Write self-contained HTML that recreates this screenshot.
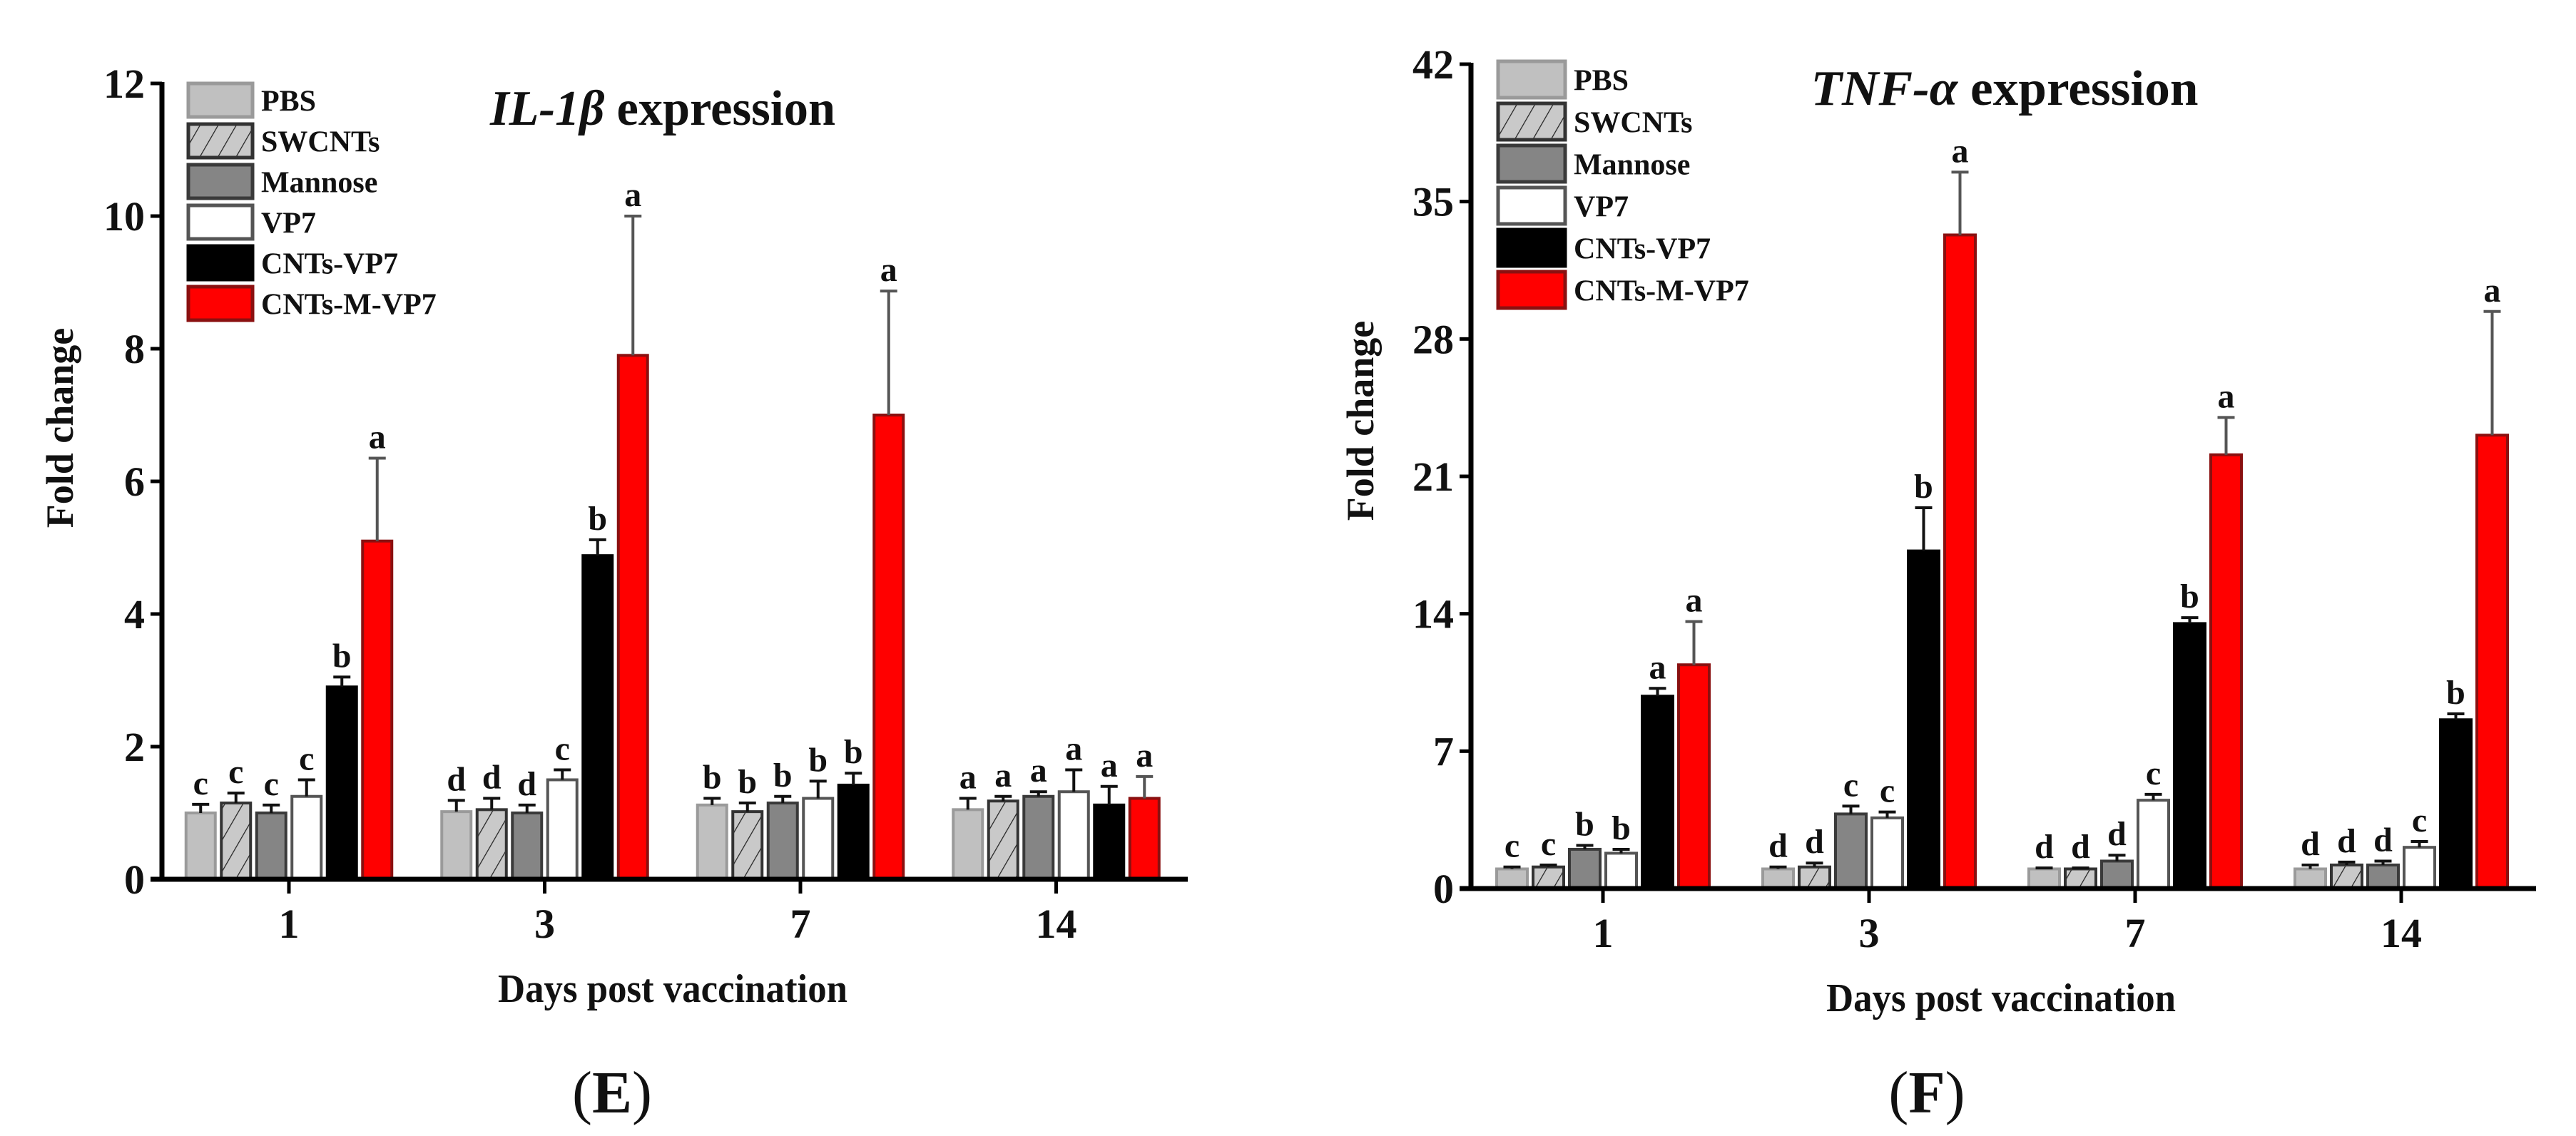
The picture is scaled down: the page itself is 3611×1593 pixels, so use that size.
<!DOCTYPE html>
<html><head><meta charset="utf-8">
<style>
html,body{margin:0;padding:0;background:#fff;}
svg{display:block;}
text{font-family:"Liberation Serif","DejaVu Serif",serif;font-weight:bold;fill:#111;}
</style></head>
<body>
<svg id="fig" width="3611" height="1593" viewBox="0 0 3611 1593" xmlns="http://www.w3.org/2000/svg">
<defs>
<pattern id="hatch" patternUnits="userSpaceOnUse" width="22" height="22" patternTransform="rotate(30)">
<rect width="22" height="22" fill="#c9c9c9"/>
<line x1="0" y1="0" x2="0" y2="22" stroke="#222" stroke-width="2.5"/>
</pattern>
</defs>
</svg>
<script>
// ---- shared ----
const groups = ["1", "3", "7", "14"];
const seriesNames = ["PBS", "SWCNTs", "Mannose", "VP7", "CNTs-VP7", "CNTs-M-VP7"];
// ---- chart E: IL-1β ----
const ilTicks = [0, 2, 4, 6, 8, 10, 12];
const ilPBS = [1.0, 1.02, 1.12, 1.05];
const ilSWCNTs = [1.15, 1.05, 1.02, 1.18];
const ilMannose = [1.0, 1.0, 1.15, 1.25];
const ilVP7 = [1.25, 1.5, 1.22, 1.32];
const ilCNTsVP7 = [2.9, 4.88, 1.42, 1.12];
const ilCNTsMVP7 = [5.1, 7.9, 7.0, 1.22];
const ilErrPBS = [0.13, 0.17, 0.1, 0.17];
const ilErrSWCNTs = [0.15, 0.17, 0.13, 0.07];
const ilErrMannose = [0.12, 0.12, 0.1, 0.07];
const ilErrVP7 = [0.25, 0.15, 0.26, 0.33];
const ilErrCNTsVP7 = [0.15, 0.24, 0.18, 0.28];
const ilErrCNTsMVP7 = [1.25, 2.1, 1.87, 0.33];
const ilLetters = [["c","c","c","c","b","a"],["d","d","d","c","b","a"],["b","b","b","b","b","a"],["a","a","a","a","a","a"]];
// ---- chart F: TNF-α ----
const tnTicks = [0, 7, 14, 21, 28, 35, 42];
const tnPBS = [1.0, 1.0, 1.0, 1.0];
const tnSWCNTs = [1.1, 1.1, 1.0, 1.2];
const tnMannose = [2.0, 3.8, 1.4, 1.2];
const tnVP7 = [1.8, 3.6, 4.5, 2.1];
const tnCNTsVP7 = [9.8, 17.2, 13.5, 8.6];
const tnCNTsMVP7 = [11.4, 33.3, 22.1, 23.1];
const tnErrPBS = [0.1, 0.1, 0.05, 0.2];
const tnErrSWCNTs = [0.1, 0.2, 0.05, 0.15];
const tnErrMannose = [0.2, 0.4, 0.3, 0.2];
const tnErrVP7 = [0.2, 0.3, 0.3, 0.3];
const tnErrCNTsVP7 = [0.4, 2.2, 0.3, 0.3];
const tnErrCNTsMVP7 = [2.2, 3.2, 1.9, 6.3];
const tnLetters = [["c","c","b","b","a","a"],["d","d","c","c","b","a"],["d","d","d","c","b","a"],["d","d","d","c","b","a"]];

const NS = "http://www.w3.org/2000/svg";
const svg = document.getElementById("fig");
const fills = ["#c0c0c0", "url(#hatch)", "#858585", "#ffffff", "#000000", "#ff0000"];
const strokes = ["#9a9a9a", "#333", "#3a3a3a", "#555", "#000", "#8a1010"];

function el(tag, attrs, parent) {
  const e = document.createElementNS(NS, tag);
  for (const k in attrs) e.setAttribute(k, attrs[k]);
  (parent || svg).appendChild(e);
  return e;
}

function drawChart(c) {
  const g = el("g", {});
  
  
  const yScale = v => c.y0 - (v - c.ticks[0]) / (c.ticks[c.ticks.length - 1] - c.ticks[0]) * (c.y0 - c.yTop);
  const xScale = gi => c.gx0 + gi * c.gStep;
  const series = c.values;
  for (let gi = 0; gi < groups.length; gi++) {
    for (let si = 0; si < series.length; si++) {
      const v = series[si][gi], e = c.errs[si][gi];
      const cx = xScale(gi) + (si - 2.5) * c.pitch;
      const yt = yScale(v);
      const r = el("rect", {x: cx - c.bw / 2, y: yt, width: c.bw, height: c.y0 - yt, fill: fills[si], stroke: strokes[si], "stroke-width": 4}, g);
      
      
      const ye = yScale(v + e);
      const ln = el("path", {d: `M${cx} ${yt}V${ye}M${cx - 12} ${ye}H${cx + 12}`, stroke: si === 5 ? "#555" : "#111", "stroke-width": 4, fill: "none"}, g);
      
      
      const t = el("text", {x: cx, y: ye - 14, "text-anchor": "middle", "font-size": 48}, g);
      t.textContent = c.letters[gi][si];
      
      
    }
  }
  const ya = el("line", {x1: c.ax, y1: c.yTop - 2, x2: c.ax, y2: c.y0, stroke: "#000", "stroke-width": 7}, g);
  
  
  const xa = el("line", {x1: c.ax - 16, y1: c.y0, x2: c.xEnd, y2: c.y0, stroke: "#000", "stroke-width": 7}, g);
  
  
  for (const tv of c.ticks) {
    const y = yScale(tv);
    el("line", {x1: c.ax - 16, y1: y, x2: c.ax, y2: y, stroke: "#000", "stroke-width": 5}, g);
    const t = el("text", {x: c.ax - 24, y: y + 20, "text-anchor": "end", "font-size": 58}, g);
    t.textContent = tv;
    
    
  }
  for (let gi = 0; gi < groups.length; gi++) {
    const x = xScale(gi);
    el("line", {x1: x, y1: c.y0, x2: x, y2: c.y0 + 20, stroke: "#000", "stroke-width": 5}, g);
    const t = el("text", {x: x, y: c.y0 + 82, "text-anchor": "middle", "font-size": 58}, g);
    t.textContent = groups[gi];
    
    
  }
  const xt = el("text", {x: c.xTitleX, y: c.y0 + 172, "text-anchor": "middle", "font-size": 56, textLength: 490, lengthAdjust: "spacingAndGlyphs"}, g);
  xt.textContent = "Days post vaccination";
  
  
  const yt = el("text", {x: 0, y: 0, "text-anchor": "middle", "font-size": 54, transform: `translate(${c.yTitleX},${c.yTitleY}) rotate(-90)`}, g);
  yt.textContent = "Fold change";
  
  
  const tt = el("text", {x: c.titleX, y: c.titleY, "text-anchor": "middle", "font-size": 70, textLength: c.titleW, lengthAdjust: "spacingAndGlyphs"}, g);
  
  
  const ts = el("tspan", {"font-style": "italic", "font-weight": "bold"}, tt);
  ts.textContent = c.gene;
  const ts2 = el("tspan", {}, tt);
  ts2.textContent = " expression";
  const pl = el("text", {x: c.panelX, y: 1560, "text-anchor": "middle", "font-size": 84, "font-weight": "normal"}, g);
  
  
  const p1 = el("tspan", {"font-weight": "normal"}, pl); p1.textContent = "(";
  const p2 = el("tspan", {"font-weight": "bold"}, pl); p2.textContent = c.panel;
  const p3 = el("tspan", {"font-weight": "normal"}, pl); p3.textContent = ")";
  for (let si = 0; si < seriesNames.length; si++) {
    const y = c.legY + si * c.legPitch;
    const r = el("rect", {x: c.legX, y: y, width: c.legW, height: c.legH, fill: fills[si], stroke: strokes[si], "stroke-width": 5}, g);
    
    
    const t = el("text", {x: c.legX + c.legW + 12, y: y + c.legH / 2 + 15, "font-size": 42}, g);
    t.textContent = seriesNames[si];
    
    
  }
}

drawChart({
  id: "il1b", gene: "IL-1β", panel: "E", ticks: ilTicks,
  values: [ilPBS, ilSWCNTs, ilMannose, ilVP7, ilCNTsVP7, ilCNTsMVP7],
  errs: [ilErrPBS, ilErrSWCNTs, ilErrMannose, ilErrVP7, ilErrCNTsVP7, ilErrCNTsMVP7],
  letters: ilLetters,
  ax: 227, y0: 1233, yTop: 117, xEnd: 1665, gx0: 405, gStep: 358.5, pitch: 49.5, bw: 41,
  xTitleX: 943, yTitleX: 102, yTitleY: 600, titleX: 929, titleY: 175, titleW: 484, panelX: 858,
  legX: 264, legY: 117, legPitch: 57, legW: 90, legH: 47
});
drawChart({
  id: "tnfa", gene: "TNF-α", panel: "F", ticks: tnTicks,
  values: [tnPBS, tnSWCNTs, tnMannose, tnVP7, tnCNTsVP7, tnCNTsMVP7],
  errs: [tnErrPBS, tnErrSWCNTs, tnErrMannose, tnErrVP7, tnErrCNTsVP7, tnErrCNTsMVP7],
  letters: tnLetters,
  ax: 2062, y0: 1246, yTop: 90, xEnd: 3555, gx0: 2247, gStep: 373, pitch: 51, bw: 43,
  xTitleX: 2805, yTitleX: 1925, yTitleY: 590, titleX: 2810, titleY: 147, titleW: 543, panelX: 2701,
  legX: 2100, legY: 86, legPitch: 59, legW: 94, legH: 51
});
</script>
</body></html>
